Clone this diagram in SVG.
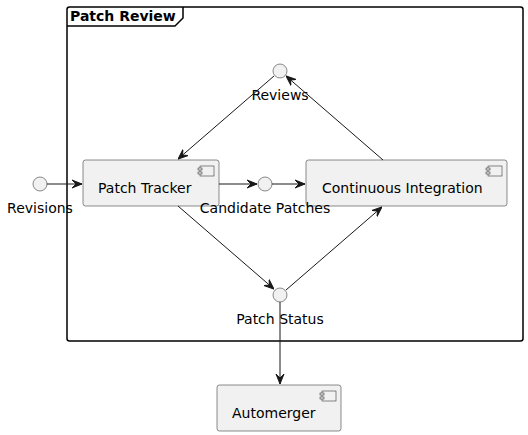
<svg xmlns="http://www.w3.org/2000/svg" width="528" height="435" viewBox="0 0 528 435">
<style>
.comp{fill:#F1F1F1;stroke:#181818;stroke-width:0.5}
.ico{fill:#F1F1F1;stroke:#181818;stroke-width:0.5}
.ifc{fill:#F1F1F1;stroke:#181818;stroke-width:0.5}
.lbl{font-family:"DejaVu Sans",sans-serif;font-size:14px;fill:#000}
.edge{stroke:#181818;stroke-width:1;fill:none}
</style>
<defs>
<marker id="ah" viewBox="0 0 10 10" refX="10" refY="5" markerWidth="10" markerHeight="10" markerUnits="userSpaceOnUse" orient="auto">
<path d="M0,1 L10,5 L0,9 L4,5 Z" fill="#181818" stroke="#181818" stroke-width="1"/>
</marker>
</defs>
<g id="frame">
<rect x="67" y="7" width="456" height="334" rx="2.5" fill="none" stroke="#000" stroke-width="1.5"/>
<path d="M67,26 L175,26 L183,18 L183,7" fill="none" stroke="#000" stroke-width="1.5"/>
<text x="70" y="21" class="lbl" font-weight="bold">Patch Review</text>
</g>
<g id="patchTracker">
<rect class="comp" x="83" y="160" width="136" height="46" rx="2.5"/>
<rect class="ico" x="200" y="166" width="14" height="10"/>
<rect class="ico" x="198" y="168" width="4" height="2"/>
<rect class="ico" x="198" y="172" width="4" height="2"/>
<text x="98" y="193" class="lbl">Patch Tracker</text>
</g>
<g id="continuousIntegration">
<rect class="comp" x="306" y="160" width="201" height="46" rx="2.5"/>
<rect class="ico" x="488" y="166" width="14" height="10"/>
<rect class="ico" x="486" y="168" width="4" height="2"/>
<rect class="ico" x="486" y="172" width="4" height="2"/>
<text x="322" y="193" class="lbl">Continuous Integration</text>
</g>
<g id="automerger">
<rect class="comp" x="217" y="385" width="124" height="46" rx="2.5"/>
<rect class="ico" x="322" y="391" width="14" height="10"/>
<rect class="ico" x="320" y="393" width="4" height="2"/>
<rect class="ico" x="320" y="397" width="4" height="2"/>
<text x="232" y="418" class="lbl">Automerger</text>
</g>
<g id="reviews">
<circle class="ifc" cx="280" cy="71" r="7"/>
<text x="280" y="100" class="lbl" text-anchor="middle">Reviews</text>
</g>
<g id="revisions">
<circle class="ifc" cx="40" cy="184" r="7"/>
<text x="40" y="213" class="lbl" text-anchor="middle">Revisions</text>
</g>
<g id="candidatePatches">
<circle class="ifc" cx="265" cy="184" r="7"/>
<text x="265" y="213" class="lbl" text-anchor="middle">Candidate Patches</text>
</g>
<g id="patchStatus">
<circle class="ifc" cx="280" cy="295" r="7"/>
<text x="280" y="324" class="lbl" text-anchor="middle">Patch Status</text>
</g>
<g id="connectors">
<line class="edge" x1="47" y1="184" x2="82" y2="184" marker-end="url(#ah)"/>
<line class="edge" x1="219" y1="184" x2="257" y2="184" marker-end="url(#ah)"/>
<line class="edge" x1="272" y1="184" x2="305" y2="184" marker-end="url(#ah)"/>
<line class="edge" x1="274" y1="76" x2="178" y2="159" marker-end="url(#ah)"/>
<line class="edge" x1="383" y1="160" x2="286" y2="76" marker-end="url(#ah)"/>
<line class="edge" x1="178" y1="206" x2="274" y2="289" marker-end="url(#ah)"/>
<line class="edge" x1="286" y1="290" x2="382" y2="207" marker-end="url(#ah)"/>
<line class="edge" x1="280" y1="302" x2="280" y2="384" marker-end="url(#ah)"/>
</g>
</svg>
